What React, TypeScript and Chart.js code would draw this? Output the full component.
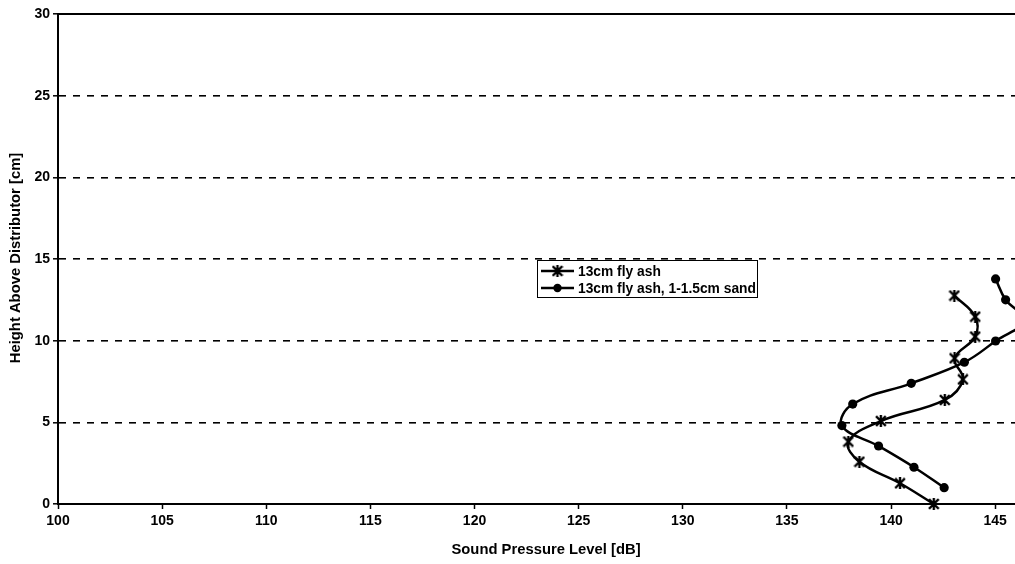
import { useEffect, useRef } from "react";
import { Chart, registerables } from "chart.js";

Chart.register(...registerables);

// Sound pressure level [dB] vs. height above the distributor [cm]
const flyAshLevel = [142.05, 140.43, 138.48, 137.95, 139.51, 142.58, 143.45, 143.05, 144.04, 144.04, 143.04];
const flyAshHeight = [0, 1.27, 2.59, 3.82, 5.08, 6.37, 7.63, 8.92, 10.25, 11.47, 12.76];

const sandLevel = [142.55, 141.1, 139.4, 137.64, 138.16, 140.97, 143.52, 145.02, 146.4, 145.5, 145.02];
const sandHeight = [1.0, 2.25, 3.55, 4.8, 6.12, 7.39, 8.68, 9.98, 11.25, 12.5, 13.78];

const seriesLabels = ["13cm fly ash", "13cm fly ash, 1-1.5cm sand"];

const xTicks = [100, 105, 110, 115, 120, 125, 130, 135, 140, 145, 150];
const yTicks = [0, 5, 10, 15, 20, 25, 30];

const xTitle = "Sound Pressure Level [dB]";
const yTitle = "Height Above Distributor [cm]";

const FONT = '"Liberation Sans", Arial, Helvetica, sans-serif';

function makeStarMarker(): HTMLCanvasElement {
  const s = 12;
  const c = document.createElement("canvas");
  c.width = s;
  c.height = s;
  const g = c.getContext("2d")!;
  g.strokeStyle = "#000";
  g.lineWidth = 2.4;
  g.lineCap = "square";
  g.beginPath();
  g.moveTo(2, 2);
  g.lineTo(s - 2, s - 2);
  g.moveTo(s - 2, 2);
  g.lineTo(2, s - 2);
  g.moveTo(s / 2, 1);
  g.lineTo(s / 2, s - 1);
  g.stroke();
  return c;
}

export default function App() {
  const canvasRef = useRef<HTMLCanvasElement | null>(null);

  useEffect(() => {
    const canvas = canvasRef.current;
    if (!canvas) return;
    const star = makeStarMarker();

    const decor = {
      id: "decor",
      afterDraw(chart: any) {
        const { ctx, chartArea, scales } = chart;
        ctx.save();
        // solid frame line along the top of the plot
        const yTop = scales.y.getPixelForValue(30);
        ctx.strokeStyle = "#000";
        ctx.lineWidth = 2;
        ctx.beginPath();
        ctx.moveTo(chartArea.left, yTop);
        ctx.lineTo(chartArea.right, yTop);
        ctx.stroke();

        // axis titles
        ctx.fillStyle = "#000";
        ctx.font = `bold 14.8px ${FONT}`;
        ctx.textAlign = "center";
        ctx.textBaseline = "middle";
        ctx.fillText(xTitle, 546, 550);
        ctx.save();
        ctx.translate(16, 258);
        ctx.rotate(-Math.PI / 2);
        ctx.fillText(yTitle, 0, 0);
        ctx.restore();

        // legend box
        const lx = 537.5, ly = 260.5, lw = 220, lh = 37;
        ctx.fillStyle = "#fff";
        ctx.fillRect(lx, ly, lw, lh);
        ctx.strokeStyle = "#000";
        ctx.lineWidth = 1;
        ctx.strokeRect(lx, ly, lw, lh);
        const rows = [271, 288];
        chart.data.datasets.forEach((ds: any, i: number) => {
          const ry = rows[i];
          ctx.strokeStyle = "#000";
          ctx.lineWidth = 2.5;
          ctx.beginPath();
          ctx.moveTo(541, ry);
          ctx.lineTo(574, ry);
          ctx.stroke();
          if (i === 0) {
            ctx.drawImage(star, 557.5 - star.width / 2, ry - star.height / 2);
          } else {
            ctx.fillStyle = "#000";
            ctx.beginPath();
            ctx.arc(557.5, ry, 4.2, 0, Math.PI * 2);
            ctx.fill();
          }
          ctx.fillStyle = "#000";
          ctx.font = `bold 13.8px ${FONT}`;
          ctx.textAlign = "left";
          ctx.textBaseline = "middle";
          ctx.fillText(ds.label, 578, ry + 1);
        });
        ctx.restore();
      },
    };

    const chart = new Chart(canvas, {
      type: "line",
      data: {
        datasets: [
          {
            label: seriesLabels[0],
            data: flyAshLevel.map((x, i) => ({ x, y: flyAshHeight[i] })),
            borderColor: "#000",
            backgroundColor: "#000",
            borderWidth: 2.5,
            tension: 0.4,
            pointStyle: star as any,
            pointRadius: 6,
            clip: false as any,
          },
          {
            label: seriesLabels[1],
            data: sandLevel.map((x, i) => ({ x, y: sandHeight[i] })),
            borderColor: "#000",
            backgroundColor: "#000",
            borderWidth: 2.5,
            tension: 0.4,
            pointStyle: "circle",
            pointRadius: 4.6,
            pointBorderWidth: 0,
            clip: false as any,
          },
        ],
      },
      options: {
        responsive: false,
        animation: false,
        layout: { padding: { left: 0, right: 8, top: 14, bottom: 0 } },
        plugins: {
          legend: { display: false },
          tooltip: { enabled: false },
        },
        scales: {
          x: {
            type: "linear",
            min: 100,
            max: 150,
            afterBuildTicks: (scale: any) => {
              scale.ticks = xTicks.map((v) => ({ value: v }));
            },
            afterFit: (scale: any) => {
              scale.height = 60;
            },
            ticks: {
              color: "#000",
              font: { family: FONT, size: 14, weight: "bold" },
              padding: 4,
              maxRotation: 0,
              autoSkip: false,
            },
            grid: {
              drawOnChartArea: false,
              drawTicks: true,
              tickLength: 5,
              tickColor: "#000",
              tickWidth: 1.5,
            },
            border: { display: true, color: "#000", width: 2 },
          },
          y: {
            type: "linear",
            min: 0,
            max: 30,
            afterBuildTicks: (scale: any) => {
              scale.ticks = yTicks.map((v) => ({ value: v }));
            },
            afterFit: (scale: any) => {
              scale.width = 58;
            },
            ticks: {
              color: "#000",
              font: { family: FONT, size: 14, weight: "bold" },
              padding: 3,
              autoSkip: false,
            },
            grid: {
              drawOnChartArea: true,
              color: (c: any) =>
                c.tick && (c.tick.value === 0 || c.tick.value === 30) ? "rgba(0,0,0,0)" : "#000",
              lineWidth: 1.6,
              drawTicks: true,
              tickLength: 5,
              tickColor: "#000",
              tickWidth: 1.5,
            },
            border: { display: true, color: "#000", width: 2, dash: [7, 7] },
          },
        },
      },
      plugins: [decor],
    });

    return () => chart.destroy();
  }, []);

  return (
    <div
      style={{
        position: "fixed",
        left: 0,
        top: 0,
        width: 1015,
        height: 564,
        overflow: "hidden",
        background: "#fff",
      }}
    >
      <canvas ref={canvasRef} width={1115} height={564} style={{ display: "block" }} />
    </div>
  );
}
